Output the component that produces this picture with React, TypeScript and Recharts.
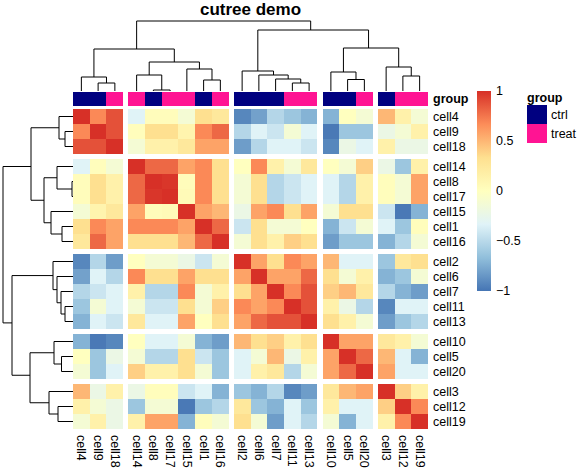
import { ScatterChart, Scatter, XAxis, YAxis, ReferenceArea } from 'recharts';

// samples in clustered order (rows and columns share the same order)
const cells = ['cell4', 'cell9', 'cell18', 'cell14', 'cell8', 'cell17', 'cell15', 'cell1', 'cell16', 'cell2', 'cell6', 'cell7', 'cell11', 'cell13', 'cell10', 'cell5', 'cell20', 'cell3', 'cell12', 'cell19'];
const groups = ['ctrl', 'ctrl', 'treat', 'treat', 'ctrl', 'treat', 'treat', 'ctrl', 'treat', 'ctrl', 'ctrl', 'ctrl', 'treat', 'treat', 'ctrl', 'ctrl', 'treat', 'ctrl', 'treat', 'treat'];
const groupLevels = ['ctrl', 'treat'];
const cutClusters = [1, 1, 1, 2, 2, 2, 2, 2, 2, 3, 3, 3, 3, 3, 4, 4, 4, 5, 5, 5];

// upper triangle of the correlation matrix, each row starts on the diagonal
const corrCell4 = [1, 0.68, 0.88, -0.33, 0.03, 0.03, -0.12, 0.33, 0.25, -0.92, -0.8, -0.52, -0.62, -0.72, -0.72, 0, -0.12, 0.5, 0.15, -0.12];
const corrCell9 = [1, 0.88, 0.02, 0.33, 0.33, 0.12, 0.68, 0.8, -0.52, -0.33, -0.42, -0.12, -0.33, -0.98, -0.62, -0.62, -0.22, -0.12, 0.15];
const corrCell18 = [1, -0.12, 0.15, 0.15, 0.25, 0.58, 0.58, -0.82, -0.52, -0.33, -0.33, -0.42, -0.92, -0.22, -0.33, 0.15, -0.22, -0.22];
const corrCell14 = [1, 0.8, 0.8, 0.58, 0.68, 0.33, 0, 0.68, 0.15, -0.12, 0.25, 0, -0.12, 0.4, -0.22, -0.62, 0.15];
const corrCell8 = [1, 0.98, 0.03, 0.68, 0.33, -0.12, 0.33, -0.52, -0.42, -0.33, -0.33, -0.52, 0.15, 0.02, -0.12, 0.58];
const corrCell17 = [1, 0.05, 0.68, 0.33, -0.12, 0.33, -0.52, -0.42, -0.33, -0.33, -0.52, 0.15, 0.02, -0.12, 0.58];
const corrCell15 = [1, 0.58, 0.5, -0.22, 0.58, 0.68, 0.33, 0.58, -0.12, 0.33, 0.33, -0.42, -0.98, -0.72];
const corrCell1 = [1, 0.8, -0.42, 0.33, -0.12, -0.12, 0, -0.72, -0.42, -0.12, -0.33, -0.62, 0.02];
const corrCell16 = [1, -0.12, 0.33, 0.15, 0.4, 0.33, -0.82, -0.62, -0.62, -0.72, -0.52, -0.12];
const corrCell2 = [1, 0.58, 0.33, 0.68, 0.58, 0.5, -0.33, -0.33, -0.62, 0.25, 0.33];
const corrCell6 = [1, 0.58, 0.58, 0.8, 0.33, -0.12, 0.15, -0.72, -0.62, -0.12];
const corrCell7 = [1, 0.68, 0.88, 0.4, 0.5, 0.25, -0.52, -0.72, -0.82];
const corrCell11 = [1, 0.88, 0.15, -0.22, -0.52, -0.92, -0.33, -0.33];
const corrCell13 = [1, 0.33, 0.15, -0.12, -0.82, -0.62, -0.52];
const corrCell10 = [1, 0.58, 0.58, 0.25, 0.15, -0.12];
const corrCell5 = [1, 0.8, 0.5, -0.33, -0.72];
const corrCell20 = [1, 0.58, -0.33, -0.33];
const corrCell3 = [1, 0.4, 0.15];
const corrCell12 = [1, 0.68];
const corrCell19 = [1];

// hclust style merges: negative = leaf (1-based position), positive = earlier merge
const mergeLeft = [-5, -2, -8, -13, -1, -4, -7, 6, -12, -11, -10, -16, -15, -19, -18, 13, 5, 11, 17];
const mergeRight = [-6, -3, -9, -14, 2, 1, 3, 7, 4, 9, 10, -17, 12, -20, 14, 15, 8, 16, 18];
const mergeHeight = [1, 8, 11, 8, 14, 16, 22, 29, 12, 16, 20, 11.5, 19, 15, 24, 43, 42, 61, 70];

const legendTicks = [-1, -0.5, 0, 0.5, 1];
const palette = ['#4575B4', '#91BFDB', '#E0F3F8', '#FFFFBF', '#FEE090', '#FC8D59', '#D73027'];
const groupColors: Record<string, string> = { ctrl: '#000080', treat: '#FF1493' };

// layout
const W = 578;
const H = 476;
const HM = { left: 73, right: 428, top: 109, bottom: 429 };
const ANNO = { top: 91.5, bottom: 106 };
const TREE_TOP = 21;
const TREE_BOTTOM = 91;
const TREE_LEFT = 3;
const BAR = { left: 477, right: 491, top: 91, bottom: 291 };
const GAP_X = 0.3;
const GAP_Y = 1 / 3;
const ROW_AXIS_W = 60;
const COL_AXIS_H = 40;
const FONT = 12.5;

const upper = [corrCell4, corrCell9, corrCell18, corrCell14, corrCell8, corrCell17, corrCell15, corrCell1, corrCell16, corrCell2, corrCell6, corrCell7, corrCell11, corrCell13, corrCell10, corrCell5, corrCell20, corrCell3, corrCell12, corrCell19];
const corr = (r: number, c: number) => (r <= c ? upper[r][c - r] : upper[c][r - c]);

const n = cells.length;
const boundaries = cutClusters.map((c, i) => (i > 0 && c !== cutClusters[i - 1] ? i : -1)).filter((i) => i > 0);
const gapped = (p: number, gap: number) => p + gap * boundaries.filter((b) => b < p).length;
const xMax = n + boundaries.length * GAP_X;
const yMax = n + boundaries.length * GAP_Y;
const colCenters = cells.map((_, i) => gapped(i + 0.5, GAP_X));
const rowCenters = cells.map((_, i) => gapped(i + 0.5, GAP_Y));
const treeMax = Math.max(...mergeHeight);

const cellW = (HM.right - HM.left) / xMax;
const cellH = (HM.bottom - HM.top) / yMax;

const hexRgb = (h: string) => [1, 3, 5].map((k) => parseInt(h.slice(k, k + 2), 16));
const corrColor = (v: number) => {
  const t = ((Math.max(-1, Math.min(1, v)) + 1) / 2) * (palette.length - 1);
  const i = Math.min(Math.floor(t), palette.length - 2);
  const f = t - i;
  const a = hexRgb(palette[i]);
  const b = hexRgb(palette[i + 1]);
  const m = a.map((x, k) => Math.round(x + (b[k] - x) * f));
  return `rgb(${m[0]},${m[1]},${m[2]})`;
};

const heatData = cells.flatMap((_, r) => cells.map((__, c) => ({ x: colCenters[c], y: rowCenters[r], v: corr(r, c) })));
const annoData = groups.map((g, i) => ({ x: colCenters[i], y: 0.5, g }));
const keyData = legendTicks.map((v) => ({ x: 0.5, y: v }));

// dendrogram paths in un-gapped leaf units, gaps are added afterwards (like pheatmap)
const dendroPaths = () => {
  const pos: number[] = [];
  const hgt: number[] = [];
  const node = (ref: number) => (ref < 0 ? { p: -ref - 0.5, h: 0 } : { p: pos[ref - 1], h: hgt[ref - 1] });
  return mergeHeight.map((h, k) => {
    const a = node(mergeLeft[k]);
    const b = node(mergeRight[k]);
    pos[k] = (a.p + b.p) / 2;
    hgt[k] = h;
    return [
      { p: a.p, h: a.h },
      { p: a.p, h },
      { p: b.p, h },
      { p: b.p, h: b.h },
    ];
  });
};
const paths = dendroPaths();
const topPaths = paths.map((s) => s.map((pt) => ({ x: gapped(pt.p, GAP_X), y: pt.h })));
const leftPaths = paths.map((s) => s.map((pt) => ({ x: pt.h, y: gapped(pt.p, GAP_Y) })));

const NoDot = () => <g />;

const HeatCell = (props: any) => {
  const { cx, cy, payload } = props;
  return <rect x={cx - cellW / 2} y={cy - cellH / 2} width={cellW} height={cellH} fill={corrColor(payload.v)} shapeRendering="crispEdges" />;
};

const AnnoCell = (props: any) => {
  const { cx, payload } = props;
  return <rect x={cx - cellW / 2} y={ANNO.top} width={cellW} height={ANNO.bottom - ANNO.top} fill={groupColors[payload.g]} shapeRendering="crispEdges" />;
};

const ColTick = (props: any) => {
  const { x, y, index } = props;
  return (
    <text transform={`translate(${x},${y + 1}) rotate(90)`} dominantBaseline="central" fontSize={FONT} fill="#000">
      {cells[index]}
    </text>
  );
};

const rowLabel = (v: number) => cells[rowCenters.findIndex((t) => Math.abs(t - v) < 1e-6)] ?? '';
const legendLabel = (v: number) => (v < 0 ? '\u2212' + Math.abs(v) : String(v));

const layer = { position: 'absolute' as const, left: 0, top: 0 };

export default function App() {
  return (
    <div style={{ position: 'absolute', left: 0, top: 0, width: W, height: H, background: '#fff', fontFamily: '"Liberation Sans", Arial, sans-serif' }}>
      {/* top dendrogram */}
      <div style={layer}>
        <ScatterChart width={W} height={H} margin={{ top: TREE_TOP, bottom: H - TREE_BOTTOM, left: HM.left, right: W - HM.right }}>
          <XAxis type="number" dataKey="x" domain={[0, xMax]} hide />
          <YAxis type="number" dataKey="y" domain={[0, treeMax]} hide />
          {topPaths.map((seg, k) => (
            <Scatter key={k} data={seg} fill="#000" line={{ stroke: '#000', strokeWidth: 1 }} shape={NoDot} isAnimationActive={false} />
          ))}
        </ScatterChart>
      </div>

      {/* left dendrogram */}
      <div style={layer}>
        <ScatterChart width={W} height={H} margin={{ top: HM.top, bottom: H - HM.bottom, left: TREE_LEFT, right: W - HM.left }}>
          <XAxis type="number" dataKey="x" domain={[0, treeMax]} reversed hide />
          <YAxis type="number" dataKey="y" domain={[0, yMax]} reversed hide />
          {leftPaths.map((seg, k) => (
            <Scatter key={k} data={seg} fill="#000" line={{ stroke: '#000', strokeWidth: 1 }} shape={NoDot} isAnimationActive={false} />
          ))}
        </ScatterChart>
      </div>

      {/* group annotation */}
      <div style={layer}>
        <ScatterChart width={W} height={H} margin={{ top: ANNO.top, bottom: H - ANNO.bottom, left: HM.left, right: W - HM.right - ROW_AXIS_W }}>
          <XAxis type="number" dataKey="x" domain={[0, xMax]} hide />
          <YAxis
            type="number"
            dataKey="y"
            domain={[0, 1]}
            orientation="right"
            width={ROW_AXIS_W}
            ticks={[0.5]}
            tickFormatter={() => 'group'}
            axisLine={false}
            tickLine={false}
            tickSize={0}
            tickMargin={5}
            tick={{ fill: '#000', fontSize: FONT, fontWeight: 'bold' }}
          />
          <Scatter data={annoData} shape={AnnoCell} isAnimationActive={false} />
        </ScatterChart>
      </div>

      {/* heatmap body */}
      <div style={layer}>
        <ScatterChart width={W} height={H} margin={{ top: HM.top, left: HM.left, right: W - HM.right - ROW_AXIS_W, bottom: H - HM.bottom - COL_AXIS_H }}>
          <XAxis
            type="number"
            dataKey="x"
            domain={[0, xMax]}
            ticks={colCenters}
            interval={0}
            height={COL_AXIS_H}
            axisLine={false}
            tickLine={false}
            tickSize={0}
            tickMargin={5}
            tick={ColTick}
          />
          <YAxis
            type="number"
            dataKey="y"
            domain={[0, yMax]}
            reversed
            orientation="right"
            ticks={rowCenters}
            interval={0}
            width={ROW_AXIS_W}
            axisLine={false}
            tickLine={false}
            tickSize={0}
            tickMargin={5}
            tick={{ fill: '#000', fontSize: FONT }}
            tickFormatter={rowLabel}
          />
          <Scatter data={heatData} shape={HeatCell} isAnimationActive={false} />
        </ScatterChart>
      </div>

      {/* colour key */}
      <div style={layer}>
        <ScatterChart width={W} height={H} margin={{ top: BAR.top, bottom: H - BAR.bottom, left: BAR.left, right: W - BAR.right - 40 }}>
          <defs>
            <linearGradient id="corrRamp" x1="0" y1="1" x2="0" y2="0">
              {palette.map((c, i) => (
                <stop key={c} offset={i / (palette.length - 1)} stopColor={c} />
              ))}
            </linearGradient>
          </defs>
          <XAxis type="number" dataKey="x" domain={[0, 1]} hide />
          <YAxis
            type="number"
            dataKey="y"
            domain={[-1, 1]}
            ticks={legendTicks}
            interval={0}
            orientation="right"
            width={40}
            axisLine={false}
            tickLine={false}
            tickSize={0}
            tickMargin={5}
            tick={{ fill: '#000', fontSize: FONT }}
            tickFormatter={legendLabel}
          />
          <ReferenceArea x1={0} x2={1} y1={-1} y2={1} fill="url(#corrRamp)" fillOpacity={1} stroke="none" ifOverflow="visible" />
          <Scatter data={keyData} shape={NoDot} isAnimationActive={false} />
        </ScatterChart>
      </div>

      {/* title and group legend */}
      <svg width={W} height={H} style={{ ...layer, pointerEvents: 'none' }}>
        <text x={(HM.left + HM.right) / 2} y={15} textAnchor="middle" fontSize={17} fontWeight="bold" fill="#000">
          cutree demo
        </text>
        <text x={527} y={102} fontSize={FONT} fontWeight="bold" fill="#000">
          group
        </text>
        {groupLevels.map((g, i) => (
          <g key={g}>
            <rect x={527} y={105 + i * 19} width={20} height={19} fill={groupColors[g]} />
            <text x={551} y={105 + i * 19 + 10} dominantBaseline="central" fontSize={FONT} fill="#000">
              {g}
            </text>
          </g>
        ))}
      </svg>
    </div>
  );
}
